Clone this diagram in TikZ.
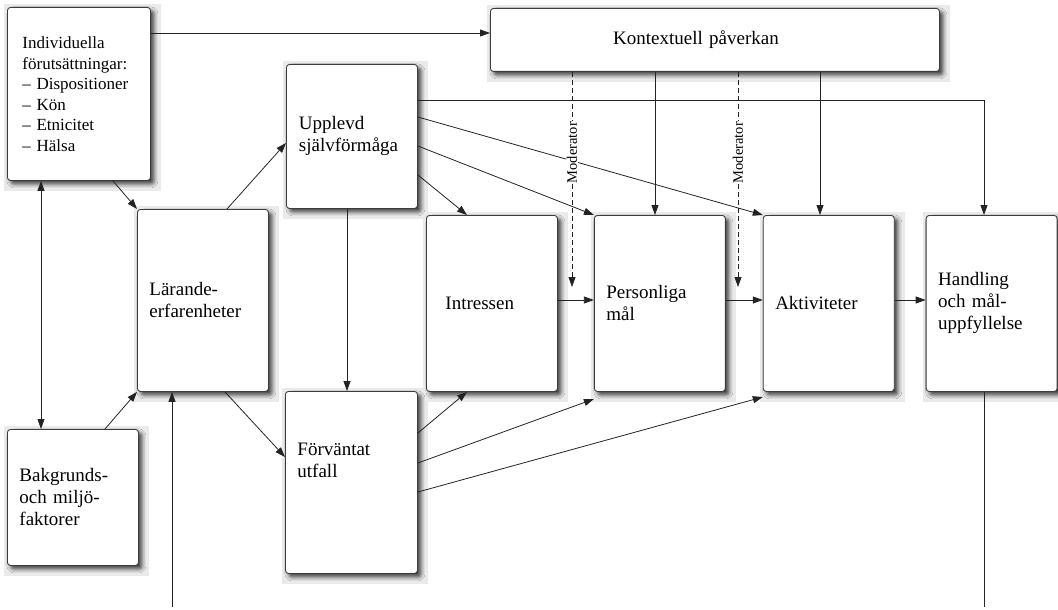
\documentclass[tikz,border=0pt]{standalone}
\usepackage{fontspec}
\setmainfont{Liberation Serif}
\usepackage{tikz}
\usetikzlibrary{arrows.meta, positioning, calc, shadows.blur, backgrounds}
\definecolor{LineGray}{RGB}{35,35,35}
\definecolor{BoxRule}{RGB}{60,60,60}
\definecolor{HaloGray}{RGB}{234,234,234}

\begin{document}
\begin{tikzpicture}[x=1pt, y=-1pt,
  every node/.style={font=\fontsize{19}{22}\selectfont},
  box/.style={draw=BoxRule, fill=white, rounded corners=3pt, line width=0.9pt,
              text width=107pt, inner xsep=12pt, inner ysep=0pt, align=left,
              minimum width=131pt, minimum height=176pt, anchor=north west,
              blur shadow={shadow xshift=3.5pt, shadow yshift=-3.5pt,
                           shadow blur radius=4pt, shadow opacity=75}},
  arrow/.style={-{Triangle[length=10pt, width=7pt]}, draw=LineGray, line width=0.8pt},
  modarrow/.style={arrow, dash pattern=on 5pt off 3pt},
  modlabel/.style={rotate=90, fill=white, inner sep=1pt, font=\fontsize{14.5}{16}\selectfont}
]
\useasboundingbox (0,0) rectangle (1058,610);

% boxes
\node[box, text width=113pt, inner xsep=15pt, minimum height=173pt,
      font=\fontsize{17}{20.5}\selectfont] (ind) at (7,7)
  {Individuella\\förutsättningar:\\– Dispositioner\\– Kön\\– Etnicitet\\– Hälsa};
\node[box, text width=425pt, align=center, minimum height=63pt] (ctx) at (490,8)
  {\hspace*{-38pt}Kontextuell påverkan};
\node[box, text width=106pt, minimum height=144pt] (upp) at (286,64)
  {Upplevd\\självförmåga};
\node[box, minimum height=182pt] (lar) at (137,209) {Lärande-\\erfarenheter};
\node[box, text width=108pt, minimum height=182pt, text depth=67pt] (forv) at (285,391)
  {Förväntat\\utfall};
\node[box, minimum height=136pt] (bak) at (7,429) {Bakgrunds-\\och miljö-\\faktorer};
\node[box] (int) at (426,215) {\hspace*{7pt}Intressen};
\node[box, right=36pt of int] (per) {Personliga\\mål};
\node[box, right=37pt of per] (akt) {Aktiviteter};
\node[box, right=31pt of akt] (han) {Handling\\och mål-\\uppfyllelse};

\coordinate (larin) at (172,607);
\coordinate (hanut) at (984,607);
\coordinate (mod1) at (572,287);
\coordinate (mod2) at (738,287);

\begin{scope}[on background layer]
\foreach \n in {ind,ctx,upp,lar,forv,bak,int,per,akt,han}
  \fill[HaloGray] ($(\n.north west)+(-3,-3)$) rectangle ($(\n.south east)+(10,10)$);
\end{scope}

% connectors
\draw[arrow] (ind.east |- 0,33) -- (ctx.west |- 0,33);
\draw[arrow, {Triangle[length=10pt, width=7pt]}-{Triangle[length=10pt, width=7pt]}]
  (ind.south -| 41,0) -- (bak.north -| 41,0);
\draw[arrow] (ind.south -| 113,0) -- (lar.north west);
\draw[arrow] (bak.north -| 105,0) -- (lar.south west);
\draw[arrow] (larin) -- (larin |- lar.south);
\draw[arrow] (lar.north -| 227,0) -- (upp.west |- 0,143);
\draw[arrow] (lar.south -| 225,0) -- (forv.west |- 0,457);
\draw[arrow] (upp.south -| 347,0) -- (forv.north -| 347,0);
\draw[arrow] (upp.east |- 0,175) -- (int.north -| 467,0);
\draw[arrow] (upp.east |- 0,146) -- (per.north west);
\draw[arrow] (upp.east |- 0,117) -- (akt.north west);
\draw[arrow] (upp.east |- 0,100) -| (han.north -| 984,0);
\draw[arrow] (ctx.south -| 655,0) -- (per.north -| 655,0);
\draw[arrow] (ctx.south -| 820,0) -- (akt.north -| 820,0);
\draw[modarrow] (ctx.south -| mod1) -- node[modlabel, pos=0.375] {Moderator} (mod1);
\draw[modarrow] (ctx.south -| mod2) -- node[modlabel, pos=0.375] {Moderator} (mod2);
\draw[arrow] (int.east |- 0,300) -- (per.west |- 0,300);
\draw[arrow] (per.east |- 0,300) -- (akt.west |- 0,300);
\draw[arrow] (akt.east |- 0,300) -- (han.west |- 0,300);
\draw[arrow] (forv.east |- 0,433) -- (int.south -| 467,0);
\draw[arrow] (forv.east |- 0,463) -- (per.west |- 0,399);
\draw[arrow] (forv.east |- 0,492) -- (akt.west |- 0,397);
\draw[draw=LineGray, line width=0.8pt] (han.south -| hanut) -- (hanut);
\end{tikzpicture}
\end{document}
